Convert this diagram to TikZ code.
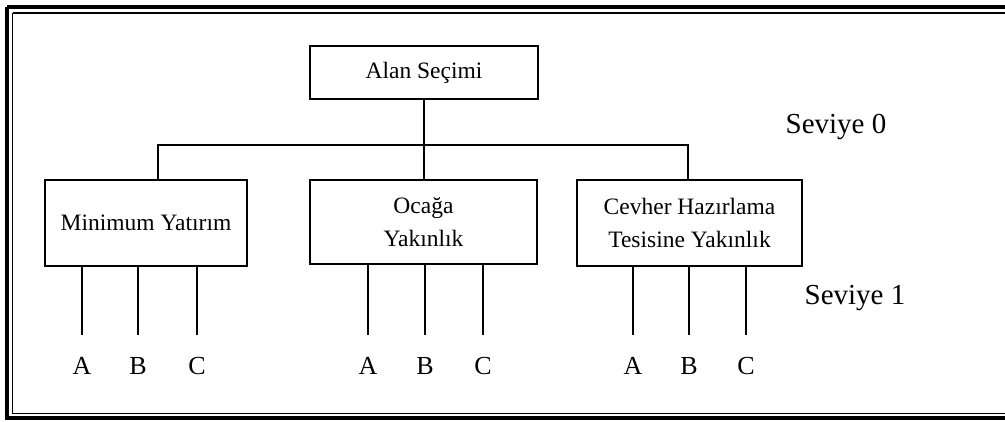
\documentclass[tikz,border=0pt]{standalone}
\usepackage{fontspec}
\setmainfont{Liberation Serif}
\begin{document}
\begin{tikzpicture}[x=1pt,y=-1pt,
  box/.style={draw,line width=1.8pt,inner sep=0pt,align=center,
    font=\fontsize{23.5}{33}\selectfont},
  conn/.style={line width=1.8pt},
  lvl/.style={font=\fontsize{29}{32}\selectfont},
  letter/.style={font=\fontsize{26}{28}\selectfont,inner sep=0pt}]
\useasboundingbox (0,0) rectangle (1005,421);
\clip (0,0) rectangle (1005,421);
% frame
\draw[line width=4pt] (7,7) -- (1060,7) (7,7) -- (7,418) -- (1060,418);
\draw[line width=1.5pt] (12.5,13) -- (1060,13) (12.5,13) -- (12.5,413.5) -- (1060,413.5);
% boxes
\node[box,minimum width=228pt,minimum height=53pt] (top) at (424,72.5) {Alan Seçimi};
\node[box,minimum width=202pt,minimum height=86pt] (L) at (146,223) {Minimum Yatırım};
\node[box,minimum width=227pt,minimum height=84pt] (M) at (423.5,222) {Ocağa\\Yakınlık};
\node[box,minimum width=225pt,minimum height=86pt] (R) at (689.5,223) {Cevher Hazırlama\\Tesisine Yakınlık};
% level labels
\node[lvl] (s0) at (836,127) {Seviye 0};
\node[lvl] (s1) at (855,298) {Seviye 1};
% bar
\coordinate (bl) at (158,145);
\coordinate (br) at (688,145);
\draw[conn] (top.south) -- (top.south |- M.north);
\draw[conn] (L.north -| bl) -- (bl) -- (br) -- (R.north -| br);
% letters
\foreach \n/\x in {LA/82,LB/138,LC/197,MA/368,MB/425,MC/483,RA/633,RB/689,RC/746}{
  \coordinate (\n) at (\x,366);
}
\foreach \b/\p in {L/L,M/M,R/R}{
  \foreach \k in {A,B,C}{
    \node[letter] (\p\k t) at (\p\k) {\k};
    \draw[conn] (\b.south -| \p\k) -- ([yshift=31pt]\p\k);
  }
}
\end{tikzpicture}
\end{document}
